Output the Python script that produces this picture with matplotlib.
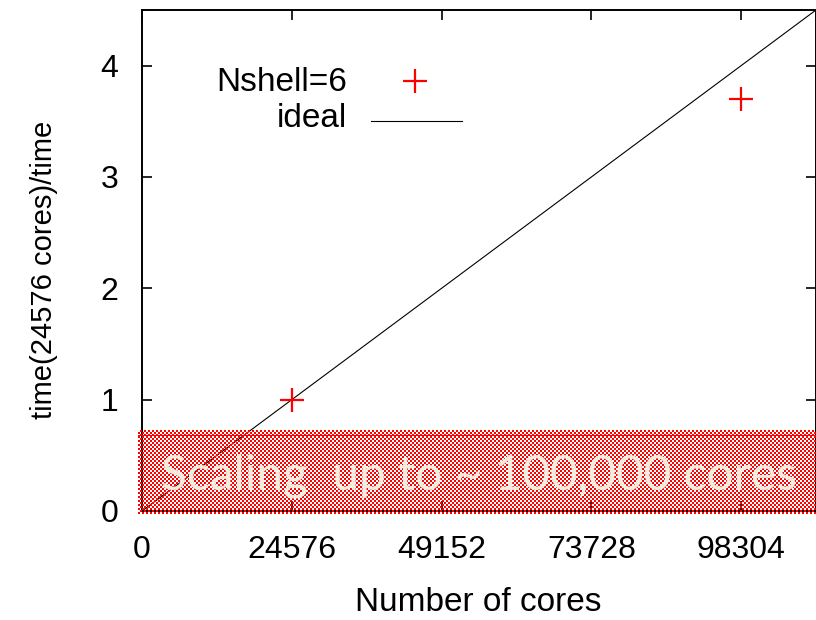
import numpy as np
import matplotlib
matplotlib.use('Agg')
import matplotlib.pyplot as plt

plt.rcParams['font.family'] = ['Liberation Sans', 'DejaVu Sans']

# measured points
cores = [24576, 98304]
speedup = [1.0, 3.7]

# ideal scaling reference
ideal_cores = [0, 110592]
ideal_speedup = [0, 110592 / 24576]

xticks = [0, 24576, 49152, 73728, 98304]
yticks = [0, 1, 2, 3, 4]

W, H, DPI = 816, 620, 100
fig = plt.figure(figsize=(W / DPI, H / DPI), dpi=DPI)
ax = fig.add_axes([142 / W, 1 - 511 / H, (W - 142) / W, (511 - 10) / H])

ax.plot(ideal_cores, ideal_speedup, color='black', lw=0.8)
ax.plot(cores, speedup, '+', color='red', ms=17, mew=1.6, ls='none')

ax.set_xlim(0, 110592)
ax.set_ylim(0, 4.5)
ax.set_xticks(xticks)
ax.set_yticks(yticks)
ax.tick_params(direction='in', length=7, width=1.2, top=True, right=True,
               labelsize=23)
ax.tick_params(axis='x', pad=17)
ax.tick_params(axis='y', pad=17)
for s in ax.spines.values():
    s.set_linewidth(1.4)
ax.set_xlabel('Number of cores', fontsize=24)
ax.set_ylabel('time(24576 cores)/time', fontsize=21)
ax.xaxis.set_label_coords(0.4985, -0.152)
ax.yaxis.set_label_coords(-0.125, 0.481)

# gnuplot-style key: right-aligned labels, samples on the right
ax.text(0.304, 0.856, 'Nshell=6', transform=ax.transAxes, ha='right',
        va='center', fontsize=24)
ax.plot([0.405], [0.858], '+', color='red', ms=17, mew=1.6,
        transform=ax.transAxes, clip_on=False)
ax.text(0.304, 0.784, 'ideal', transform=ax.transAxes, ha='right',
        va='center', fontsize=24)
ax.plot([0.34, 0.475], [0.778, 0.778], color='black', lw=0.8,
        transform=ax.transAxes)

# red checkered banner over the bottom of the plot
bw, bh = 679, 84
yy, xx = np.mgrid[0:bh, 0:bw]
chk = ((xx // 2 + yy // 2) % 2 == 0)
img = np.zeros((bh, bw, 4))
img[..., 0] = 1.0
img[..., 3] = chk.astype(float)
img[bh - 6:bh - 5, :, 3] = 1.0
fig.figimage(img, xo=138, yo=H - 514, origin='lower', zorder=5)
fig.text(479 / W, 1 - 489 / H, 'Scaling  up to ~ 100,000 cores',
         family='Lato', fontsize=34.5, color='#f0ece0', ha='center',
         va='baseline', zorder=6)

fig.savefig('out.png', dpi=DPI)
